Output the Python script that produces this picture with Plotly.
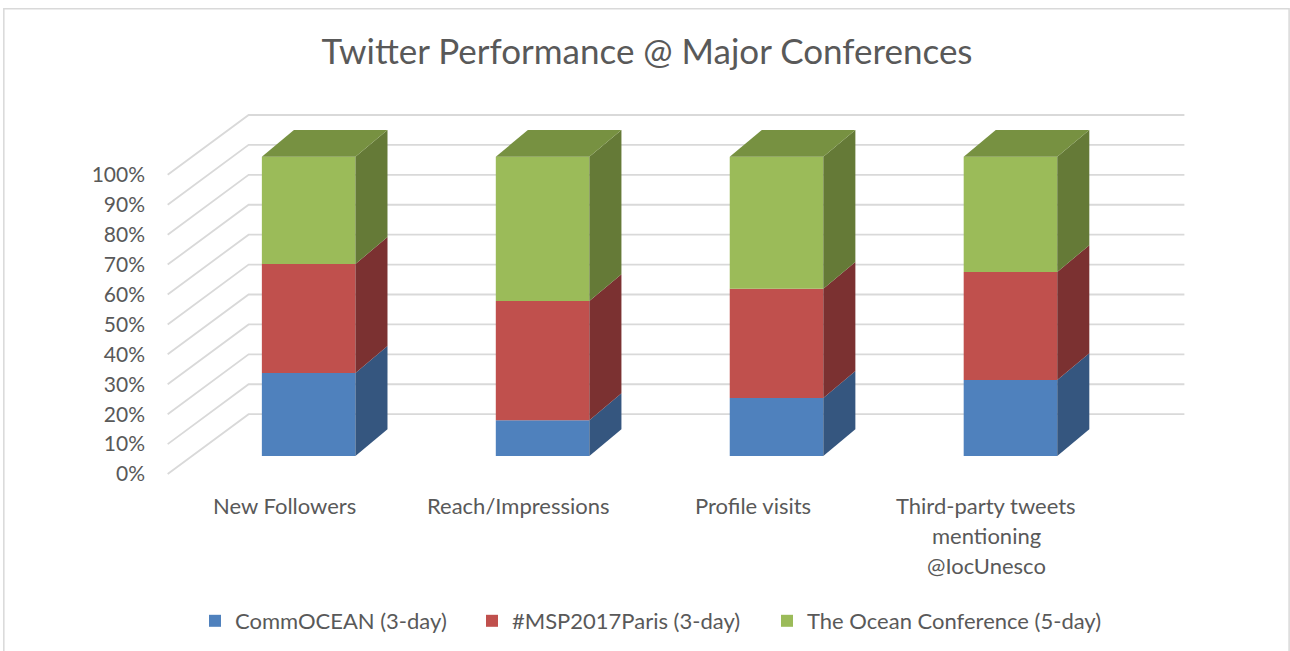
import plotly.graph_objects as go

# ---- data ----
categories = ["New Followers", "Reach/Impressions", "Profile visits",
              "Third-party tweets\nmentioning\n@IocUnesco"]
series_names = ["CommOCEAN (3-day)", "#MSP2017Paris (3-day)", "The Ocean Conference (5-day)"]
commocean = [27.8, 12.0, 19.4, 25.4]
msp2017 = [36.4, 39.8, 36.5, 36.1]
ocean_conf = [35.8, 48.2, 44.1, 38.5]
y_ticks = [0, 10, 20, 30, 40, 50, 60, 70, 80, 90, 100]
y_ticktext = [f"{v}%" for v in y_ticks]

# ---- style ----
front_cols = ["#4F81BD", "#C0504D", "#9BBB59"]
side_cols = ["#35567F", "#7B3131", "#657A37"]
top_cols = ["#3F6797", "#9A403E", "#779141"]
grid_col = "#D9D9D9"
text_col = "#595959"
FONT = "Lato"
legend_x_px = [195, 472, 767]   # legend box left edges (pixels)

# 3D geometry (axis units)
WALL_DX, WALL_DY = 0.346, 20.0      # floor depth offset to back wall
BAR_OFF_X, BAR_OFF_Y = 0.1026, 6.0  # bar front face placed inside depth
BAR_W = 0.40
BAR_DX, BAR_DY = 0.137, 9.0         # bar depth
X_LEFT, X_RIGHT = -0.5, 3.5 + WALL_DX
Y_MIN, Y_MAX = -2, 122

fig = go.Figure()

# back wall + left wall gridlines as shapes (below bars)
for v in y_ticks:
    fig.add_shape(type="path", xref="x", yref="y", layer="below",
                  path=f"M {X_LEFT},{v} L {X_LEFT + WALL_DX},{v + WALL_DY} L {X_RIGHT},{v + WALL_DY}",
                  line=dict(color=grid_col, width=1.8))

series = [commocean, msp2017, ocean_conf]
legend_ids = ["legend", "legend2", "legend3"]
n = len(categories)
bases = [0.0] * n
for s, vals in enumerate(series):
    xs = [i + BAR_OFF_X for i in range(n)]
    b = [bases[i] + BAR_OFF_Y for i in range(n)]
    fig.add_trace(go.Bar(x=xs, y=vals, base=b, width=BAR_W, name=series_names[s],
                         legend=legend_ids[s],
                         marker=dict(color=front_cols[s], line=dict(width=0)),
                         hoverinfo="skip"))
    # side faces
    for i in range(n):
        xr = i + BAR_OFF_X + BAR_W / 2
        yb = bases[i] + BAR_OFF_Y
        yt = yb + vals[i]
        fig.add_trace(go.Scatter(
            x=[xr, xr, xr + BAR_DX, xr + BAR_DX, xr],
            y=[yb, yt, yt + BAR_DY, yb + BAR_DY, yb],
            fill="toself", fillcolor=side_cols[s], mode="lines",
            line=dict(width=0, color=side_cols[s]), showlegend=False, hoverinfo="skip"))
        if s == len(series) - 1:
            xl = i + BAR_OFF_X - BAR_W / 2
            fig.add_trace(go.Scatter(
                x=[xl, xr, xr + BAR_DX, xl + BAR_DX, xl],
                y=[yt, yt, yt + BAR_DY, yt + BAR_DY, yt],
                fill="toself", fillcolor=top_cols[s], mode="lines",
                line=dict(width=0, color=top_cols[s]), showlegend=False, hoverinfo="skip"))
    bases = [bases[i] + vals[i] for i in range(n)]

# category labels as annotations (one per line), placed in paper coords below the floor
for i, cat in enumerate(categories):
    for j, line in enumerate(cat.split("\n")):
        yu = -10.4 - 10.03 * j
        fig.add_annotation(x=i, y=(yu - Y_MIN) / (Y_MAX - Y_MIN), xref="x", yref="paper", text=line,
                           showarrow=False, xanchor="center", yanchor="middle",
                           font=dict(family=FONT, size=22, color=text_col))

# outer chart border
fig.add_shape(type="rect", xref="paper", yref="paper", x0=-0.155, x1=1.0965, y0=-0.5, y1=1.27,
              line=dict(color=grid_col, width=1.5), layer="below")

legend_common = dict(orientation="h", xref="container", yref="container",
                     y=1 - 621 / 651, xanchor="left", yanchor="middle",
                     bgcolor="rgba(0,0,0,0)",
                     font=dict(family=FONT, size=22, color=text_col))

fig.update_layout(
    width=1290, height=651,
    margin=dict(l=163, r=100, t=109, b=171, autoexpand=False),
    paper_bgcolor="white", plot_bgcolor="white",
    barmode="overlay",
    title=dict(text="Twitter Performance @ Major Conferences", xref="container", yref="container",
               x=647 / 1290, y=1 - 52 / 651, xanchor="center", yanchor="middle",
               font=dict(family=FONT, size=35, color=text_col)),
    xaxis=dict(range=[-0.52, 3.87], showgrid=False, zeroline=False, showline=False,
               showticklabels=False, ticks=""),
    yaxis=dict(range=[Y_MIN, Y_MAX], showgrid=False, zeroline=False, showline=False,
               tickvals=y_ticks, ticktext=y_ticktext, ticks="", ticklabelstandoff=17,
               tickfont=dict(family=FONT, size=21, color=text_col)),
    legend=dict(x=legend_x_px[0] / 1290, **legend_common),
    legend2=dict(x=legend_x_px[1] / 1290, **legend_common),
    legend3=dict(x=legend_x_px[2] / 1290, **legend_common),
    showlegend=True,
)

fig.write_html("out.html", post_script="document.body.style.margin='0';",
               config={"displayModeBar": False})
